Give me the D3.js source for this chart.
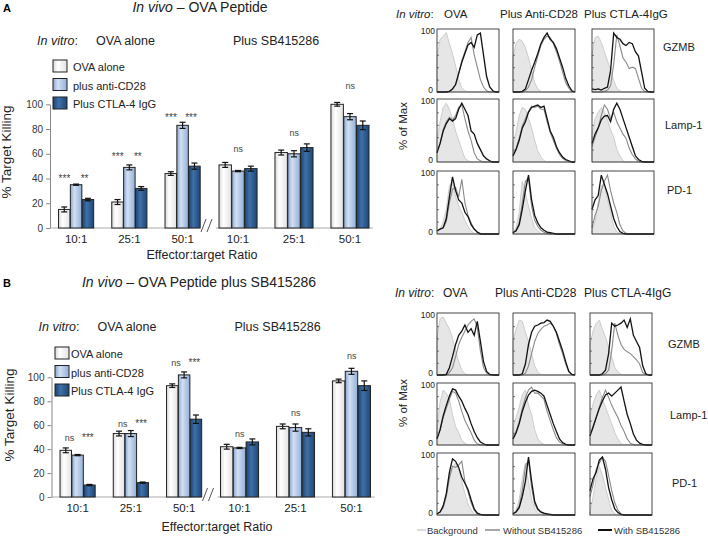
<!DOCTYPE html>
<html>
<head>
<meta charset="utf-8">
<script src="https://cdn.jsdelivr.net/npm/d3@7"></script>
<style>
  body { margin: 0; background: #fff; }
  svg { font-family: Arial, "Liberation Sans", sans-serif; }
</style>
</head>
<body>
<svg id="fig" width="708" height="539"></svg>
<script>
const ratios = ["10:1", "25:1", "50:1"];
const treatments = ["OVA alone", "plus anti-CD28", "Plus CTLA-4 IgG"];

// % target killing, rows = ratio, cols = treatment
const aOvaMeans = [[15, 35, 23], [21, 49, 32], [44, 83, 50]];
const aOvaErr   = [[2, 0.5, 1], [2, 2, 1.5], [1.5, 2.5, 2.5]];
const aSbMeans  = [[51, 46, 48], [61, 60, 65], [100, 90, 83]];
const aSbErr    = [[2, 0.5, 2], [2, 2.5, 3], [1.5, 2.5, 3.5]];
const bOvaMeans = [[39, 35, 10], [53, 53, 12], [93, 102, 65]];
const bOvaErr   = [[2, 0.5, 0.5], [2, 2.5, 0.5], [1.5, 2.5, 3.5]];
const bSbMeans  = [[42, 41, 46], [59, 58, 54], [97, 105, 93]];
const bSbErr    = [[2, 0.5, 2.5], [2, 3, 3], [1.5, 2.5, 4]];

// significance marks: [first, second] per ratio, and the height they sit at
const aOvaSig  = [["***", "**"], ["***", "**"], ["***", "***"]];
const aOvaSigY = [40, 57, 89];
const aSbSig   = ["ns", "ns", "ns"];
const aSbSigY  = [64, 77, 115];
const bOvaSig  = [["ns", "***"], ["ns", "***"], ["ns", "***"]];
const bOvaSigY = [49, 61, 112];
const bSbSig   = ["ns", "ns", "ns"];
const bSbSigY  = [53, 70, 118];

const yTicks = [0, 20, 40, 60, 80, 100];

// flow histograms, % of max at each channel bin; 3 columns (OVA, anti-CD28, CTLA-4IgG)
const histCols = ["OVA", "Plus Anti-CD28", "Plus CTLA-4IgG"];
const histRows = ["GZMB", "Lamp-1", "PD-1"];
const binX = [0,5,10,15,20,25,30,35,40,45,50,55,60,65,70,75,80,85,90,95,100];

const aGzmbBg = [
  [55,85,90,96,78,62,42,20,7,2,0,0,0,0,0,0,0,0,0,0,0],
  [55,78,85,82,72,55,35,15,5,1,0,0,0,0,0,0,0,0,0,0,0],
  [60,88,90,80,65,50,35,18,6,2,0,0,0,0,0,0,0,0,0,0,0]];
const aGzmbWithout = [
  [0,0,0,0,1,4,12,30,50,65,80,88,60,40,20,8,2,0,0,0,0],
  [0,0,0,0,2,8,20,40,58,75,85,90,88,78,65,50,32,15,6,1,0],
  [0,0,0,0,1,3,10,45,92,75,55,48,38,40,38,22,6,1,0,0,0]];
const aGzmbWith = [
  [0,0,0,0,1,5,12,30,48,62,76,80,72,92,95,60,25,8,2,0,0],
  [0,0,0,1,5,20,35,48,62,78,88,95,85,80,70,55,40,22,10,2,0],
  [5,4,5,3,6,8,35,95,88,85,78,75,80,78,65,58,32,6,1,0,0]];
const aLampBg = [
  [35,65,88,95,85,70,50,35,20,6,2,0,0,0,0,0,0,0,0,0,0],
  [30,48,75,88,85,70,55,35,18,8,2,0,0,0,0,0,0,0,0,0,0],
  [45,70,80,88,80,68,52,40,20,10,2,0,0,0,0,0,0,0,0,0,0]];
const aLampWithout = [
  [15,30,52,65,72,68,75,88,92,70,50,35,15,5,2,0,0,0,0,0,0],
  [10,22,38,58,70,82,90,88,90,85,85,65,48,35,22,12,6,3,1,0,0],
  [25,40,55,75,92,85,70,80,65,55,45,38,22,12,5,1,0,0,0,0,0]];
const aLampWith = [
  [15,30,50,62,70,66,70,85,95,85,75,50,45,30,20,10,5,2,0,0,0],
  [10,20,35,55,65,80,88,90,92,88,90,70,50,40,25,15,8,4,2,0,0],
  [30,45,55,68,74,75,65,85,95,85,70,55,40,25,10,4,1,0,0,0,0]];
const aPd1Bg = [
  [0,8,20,40,78,85,60,45,35,22,12,5,1,0,0,0,0,0,0,0,0],
  [2,10,35,85,65,45,25,10,5,1,0,0,0,0,0,0,0,0,0,0,0],
  [5,20,50,78,80,55,35,12,4,1,0,0,0,0,0,0,0,0,0,0,0]];
const aPd1Without = [
  [5,8,10,20,50,72,75,60,88,50,30,18,8,3,1,0,0,0,0,0,0],
  [2,6,18,50,85,90,45,22,12,6,3,1,0,0,0,0,0,0,0,0,0],
  [10,30,45,70,85,95,70,50,35,15,5,1,0,0,0,0,0,0,0,0,0]];
const aPd1With = [
  [5,8,10,25,60,92,70,55,50,35,28,15,8,3,0,0,0,0,0,0,0],
  [2,5,15,40,70,95,55,30,18,10,6,3,2,1,0,0,0,0,0,0,0],
  [40,55,62,95,80,65,45,25,12,4,1,0,0,0,0,0,0,0,0,0,0]];

const bGzmbBg = [
  [60,92,95,85,75,60,40,22,8,2,0,0,0,0,0,0,0,0,0,0,0],
  [55,75,90,88,70,55,35,15,5,1,0,0,0,0,0,0,0,0,0,0,0],
  [50,72,85,90,75,62,45,30,12,5,1,0,0,0,0,0,0,0,0,0,0]];
const bGzmbWithout = [
  [0,0,0,0,4,12,30,50,62,72,82,88,92,78,40,12,3,0,0,0,0],
  [0,0,0,0,3,15,35,55,68,75,80,82,85,80,68,50,35,18,5,1,0],
  [0,0,0,0,0,2,8,40,85,65,50,42,38,35,30,25,18,4,1,0,0]];
const bGzmbWith = [
  [0,0,0,1,12,30,50,65,72,82,70,76,65,88,55,22,6,1,0,0,0],
  [0,0,0,2,18,50,70,80,82,85,86,90,88,80,70,55,40,22,6,1,0],
  [0,0,0,0,2,8,35,85,80,82,85,90,78,92,65,55,45,15,2,0,0]];
const bLampBg = [
  [30,70,90,85,75,50,30,20,8,3,0,0,0,0,0,0,0,0,0,0,0],
  [30,45,62,82,90,65,50,25,10,4,1,0,0,0,0,0,0,0,0,0,0],
  [45,68,82,90,75,62,48,35,20,10,2,0,0,0,0,0,0,0,0,0,0]];
const bLampWithout = [
  [10,25,45,60,75,88,85,72,55,40,30,20,8,2,0,0,0,0,0,0,0],
  [10,22,38,60,78,90,95,85,85,80,75,55,40,25,12,5,2,0,0,0,0],
  [15,28,45,62,78,90,78,65,55,45,32,22,10,3,1,0,0,0,0,0,0]];
const bLampWith = [
  [10,25,48,65,80,92,90,80,72,60,50,35,22,12,5,2,0,0,0,0,0],
  [10,20,35,55,70,82,88,90,88,85,80,65,50,35,22,10,4,1,0,0,0],
  [15,30,45,60,72,82,85,80,85,90,95,72,50,35,18,8,3,1,0,0,0]];
const bPd1Bg = [
  [2,5,15,35,65,78,85,75,55,35,18,8,2,0,0,0,0,0,0,0,0],
  [2,8,25,60,85,55,25,10,3,1,0,0,0,0,0,0,0,0,0,0,0],
  [5,30,60,80,65,45,25,8,2,0,0,0,0,0,0,0,0,0,0,0,0]];
const bPd1Without = [
  [2,5,12,30,60,80,78,82,88,55,38,20,8,2,0,0,0,0,0,0,0],
  [2,6,15,40,80,90,45,18,8,4,2,1,0,0,0,0,0,0,0,0,0],
  [30,50,75,85,95,88,65,40,20,8,2,0,0,0,0,0,0,0,0,0,0]];
const bPd1With = [
  [2,5,15,35,70,92,88,78,62,52,42,25,10,3,1,0,0,0,0,0,0],
  [2,5,12,30,55,95,55,22,10,5,3,2,1,0,0,0,0,0,0,0,0],
  [40,60,70,90,95,75,45,25,10,4,1,0,0,0,0,0,0,0,0,0,0]];

const histLegend = ["Background", "Without SB415286", "With SB415286"];

const svg = d3.select("#fig");
const defs = svg.append("defs");

function grad(id, stops) {
  const lg = defs.append("linearGradient").attr("id", id)
    .attr("x1", "0%").attr("x2", "100%").attr("y1", "0%").attr("y2", "0%");
  stops.forEach(s => lg.append("stop").attr("offset", s[0]).attr("stop-color", s[1]));
}
grad("gWhite", [[0, "#d8d8d8"], [0.35, "#ffffff"], [1, "#e2e2e2"]]);
grad("gLight", [[0, "#8aa7d1"], [0.35, "#d2e0f2"], [1, "#93afd8"]]);
grad("gDark", [[0, "#1b4371"], [0.4, "#3f70a8"], [1, "#1d4877"]]);
const fills = ["url(#gWhite)", "url(#gLight)", "url(#gDark)"];

// ---------- bar panels ----------
function drawBars(p) {
  const g = svg.append("g");
  const y = d3.scaleLinear().domain([0, 100]).range([p.y0, p.y100]);

  g.append("text").attr("x", 3).attr("y", p.top + 4)
    .attr("font-size", 11).attr("font-weight", "bold").text(p.letter);

  const title = g.append("text").attr("x", p.titleX).attr("y", p.top + 4)
    .attr("text-anchor", "middle").attr("font-size", 14).attr("fill", "#222");
  title.append("tspan").attr("font-style", "italic").text("In vivo");
  title.append("tspan").text(" \u2013 " + p.title);

  const sub = g.append("text").attr("y", p.subY).attr("font-size", 12.5).attr("fill", "#222");
  sub.append("tspan").attr("x", p.dx + 37).attr("font-style", "italic").text("In vitro");
  sub.append("tspan").text(":");
  sub.append("tspan").attr("x", p.dx + 96).text("OVA alone");
  g.append("text").attr("x", p.dx + 233).attr("y", p.subY).attr("font-size", 12.5)
    .attr("fill", "#222").text("Plus SB415286");

  // legend
  treatments.forEach((t, i) => {
    const ly = p.legY + i * 18.5;
    g.append("rect").attr("x", p.legX).attr("y", ly).attr("width", 14).attr("height", 12)
      .attr("fill", fills[i]).attr("stroke", "#222").attr("stroke-width", 1);
    g.append("text").attr("x", p.legX + p.legGap).attr("y", ly + 11)
      .attr("font-size", 11).attr("fill", "#222").text(t);
  });

  // y axis
  const ax = g.append("g").attr("transform", `translate(${p.dx + 50},0)`)
    .call(d3.axisLeft(y).tickValues(yTicks).tickSize(4).tickSizeOuter(0));
  ax.select(".domain").attr("stroke", "#888");
  ax.selectAll(".tick line").attr("stroke", "#888");
  ax.selectAll(".tick text").attr("font-size", 10).attr("fill", "#333")
    .attr("font-family", "Arial, sans-serif");

  g.append("text").attr("transform", `translate(${p.ylabX},${p.ylabY}) rotate(-90)`)
    .attr("text-anchor", "middle").attr("font-size", 13.5).attr("fill", "#222")
    .text("% Target Killing");

  const blocks = [
    { means: p.ovaMeans, errs: p.ovaErr,
      x: d3.scaleBand().domain(ratios).range([p.dx + 50, p.dx + 208.7]).paddingInner(0.34).paddingOuter(0.16),
      line: [p.dx + 50, p.dx + 199] },
    { means: p.sbMeans, errs: p.sbErr,
      x: d3.scaleBand().domain(ratios).range([p.dx + 212, p.dx + 376]).paddingInner(0.32).paddingOuter(0.125),
      line: [p.dx + 216, p.dx + 373] }
  ];

  blocks.forEach((b, bi) => {
    g.append("line").attr("x1", b.line[0]).attr("x2", b.line[1])
      .attr("y1", p.y0).attr("y2", p.y0).attr("stroke", "#aaa");
    const inner = d3.scaleBand().domain([0, 1, 2]).range([0, b.x.bandwidth()]).paddingInner(0.03);
    ratios.forEach((r, ri) => {
      const gx = b.x(r);
      b.means[ri].forEach((m, ti) => {
        const bx = gx + inner(ti);
        g.append("rect").attr("x", bx).attr("y", y(m)).attr("width", inner.bandwidth())
          .attr("height", y(0) - y(m)).attr("fill", fills[ti])
          .attr("stroke", "#222").attr("stroke-width", 1);
        const e = b.errs[ri][ti];
        const cx = bx + inner.bandwidth() / 2;
        const eb = g.append("g").attr("stroke", "#111").attr("stroke-width", 1.2);
        eb.append("line").attr("x1", cx).attr("x2", cx).attr("y1", y(m - e)).attr("y2", y(m + e));
        eb.append("line").attr("x1", cx - 3).attr("x2", cx + 3).attr("y1", y(m - e)).attr("y2", y(m - e));
        eb.append("line").attr("x1", cx - 3).attr("x2", cx + 3).attr("y1", y(m + e)).attr("y2", y(m + e));
      });
      g.append("text").attr("x", gx + b.x.bandwidth() / 2).attr("y", p.y0 + 15)
        .attr("text-anchor", "middle").attr("font-size", 11.5).attr("fill", "#222").text(r);

      // significance marks
      if (bi === 0) {
        p.ovaSig[ri].forEach((s, k) => {
          const pos = k === 0 ? p.sigPos[0] : p.sigPos[1];
          g.append("text").attr("x", gx + inner.step() * (pos + 0.5))
            .attr("y", y(p.ovaSigY[ri]) + 3).attr("text-anchor", "middle")
            .attr("font-size", s === "ns" ? 9 : 10).attr("fill", "#444").text(s);
        });
      } else {
        g.append("text").attr("x", gx + inner.step() * 1.5)
          .attr("y", y(p.sbSigY[ri]) + 3).attr("text-anchor", "middle")
          .attr("font-size", 9).attr("fill", "#444").text(p.sbSig[ri]);
      }
    });
  });

  // axis break
  [0, 6].forEach(o => {
    g.append("line").attr("x1", p.dx + 201 + o).attr("x2", p.dx + 206 + o)
      .attr("y1", p.y0 + 4).attr("y2", p.y0 - 9).attr("stroke", "#555").attr("stroke-width", 1);
  });

  g.append("text").attr("x", p.xlabX).attr("y", p.xlabY).attr("text-anchor", "middle")
    .attr("font-size", 12.5).attr("fill", "#222").text("Effector:target Ratio");
}

drawBars({
  letter: "A", title: "OVA Peptide", top: 8, titleX: 200, subY: 45, dx: 0,
  legX: 53, legY: 60, legGap: 20,
  y0: 228, y100: 104.3, ylabX: 11, ylabY: 152, xlabX: 202, xlabY: 259,
  ovaMeans: aOvaMeans, ovaErr: aOvaErr, sbMeans: aSbMeans, sbErr: aSbErr,
  ovaSig: aOvaSig, ovaSigY: aOvaSigY, sbSig: aSbSig, sbSigY: aSbSigY, sigPos: [0, 1.7]
});
drawBars({
  letter: "B", title: "OVA Peptide plus SB415286", top: 283, titleX: 199, subY: 331, dx: 1.5,
  legX: 55, legY: 347, legGap: 16,
  y0: 497, y100: 377.3, ylabX: 14, ylabY: 415, xlabX: 217, xlabY: 531,
  ovaMeans: bOvaMeans, ovaErr: bOvaErr, sbMeans: bSbMeans, sbErr: bSbErr,
  ovaSig: bOvaSig, ovaSigY: bOvaSigY, sbSig: bSbSig, sbSigY: bSbSigY, sigPos: [0.3, 1.85]
});

// ---------- histogram panels ----------
function drawHists(p) {
  const g = svg.append("g");
  const hdr = g.append("text").attr("y", p.hdrY).attr("font-size", p.hdrSize).attr("fill", "#222");
  hdr.append("tspan").attr("x", p.hdrX[0]).attr("font-style", "italic").text("In vitro");
  hdr.append("tspan").text(":");
  histCols.forEach((c, i) => hdr.append("tspan").attr("x", p.hdrX[i + 1]).text(c));

  g.append("text").attr("transform", `translate(${p.ylabX},${p.ylabY}) rotate(-90)`)
    .attr("text-anchor", "middle").attr("font-size", 11.5).attr("fill", "#222").text("% of Max");

  p.rows.forEach((row, r) => {
    const by = p.rowY[r];
    p.colX.forEach((bx, c) => {
      const x = d3.scaleLinear().domain([0, 100]).range([bx, bx + p.w]);
      const y = d3.scaleLinear().domain([0, 100]).range([by + p.h, by + 1]);
      const pts = v => binX.map((b, i) => [b, v[i]]);
      const area = d3.area().x(d => x(d[0])).y0(y(0)).y1(d => y(d[1]));
      const line = d3.line().x(d => x(d[0])).y(d => y(d[1]));
      g.append("path").attr("d", area(pts(row[0][c]))).attr("fill", "#e6e6e6")
        .attr("stroke", "#cdcdcd").attr("stroke-width", 1);
      g.append("path").attr("d", line(pts(row[1][c]))).attr("fill", "none")
        .attr("stroke", "#8a8a8a").attr("stroke-width", 1.1);
      g.append("path").attr("d", line(pts(row[2][c]))).attr("fill", "none")
        .attr("stroke", "#111").attr("stroke-width", 1.3);

      // frame with small inner ticks
      g.append("g").attr("transform", `translate(${bx},0)`)
        .call(d3.axisRight(y).tickValues([20, 40, 60, 80]).tickSize(2).tickFormat(""))
        .call(s => s.select(".domain").remove())
        .selectAll("line").attr("stroke", "#777");
      g.append("rect").attr("x", bx).attr("y", by).attr("width", p.w).attr("height", p.h)
        .attr("fill", "none").attr("stroke", "#333").attr("stroke-width", 0.9);

      if (c === 0) {
        g.append("text").attr("x", bx - 2).attr("y", by + 5).attr("text-anchor", "end")
          .attr("font-size", 8.5).attr("fill", "#222").text("100");
        g.append("text").attr("x", bx - 4).attr("y", by + p.h + 1).attr("text-anchor", "end")
          .attr("font-size", 8.5).attr("fill", "#222").text("0");
      }
    });
    g.append("text").attr("x", p.rowLabX[r]).attr("y", p.rowLabY[r] + 4)
      .attr("font-size", 11).attr("fill", "#222").text(histRows[r]);
  });
}

drawHists({
  hdrY: 18, hdrSize: 11.5, hdrX: [396, 444, 500, 584],
  ylabX: 407, ylabY: 126,
  colX: [437, 513, 592], rowY: [29, 99, 171], w: 62, h: 63,
  rowLabX: [663, 665, 667], rowLabY: [47, 125, 190],
  rows: [[aGzmbBg, aGzmbWithout, aGzmbWith], [aLampBg, aLampWithout, aLampWith], [aPd1Bg, aPd1Without, aPd1With]]
});
drawHists({
  hdrY: 297, hdrSize: 12, hdrX: [395, 443, 495, 584],
  ylabX: 407, ylabY: 403,
  colX: [437, 513, 590], rowY: [313, 383, 453], w: 62, h: 62,
  rowLabX: [668, 670, 672], rowLabY: [344, 415, 483],
  rows: [[bGzmbBg, bGzmbWithout, bGzmbWith], [bLampBg, bLampWithout, bLampWith], [bPd1Bg, bPd1Without, bPd1With]]
});

// histogram legend
const legStyles = [["#cfcfcf", 1.5], ["#8a8a8a", 1.5], ["#111", 2]];
const legX = [[417, 426, 427], [485, 500, 503], [598, 612, 614]];
histLegend.forEach((t, i) => {
  svg.append("line").attr("x1", legX[i][0]).attr("x2", legX[i][1]).attr("y1", 530).attr("y2", 530)
    .attr("stroke", legStyles[i][0]).attr("stroke-width", legStyles[i][1]);
  svg.append("text").attr("x", legX[i][2]).attr("y", 533.5).attr("font-size", 9.5)
    .attr("fill", "#333").text(t);
});
</script>
</body>
</html>
